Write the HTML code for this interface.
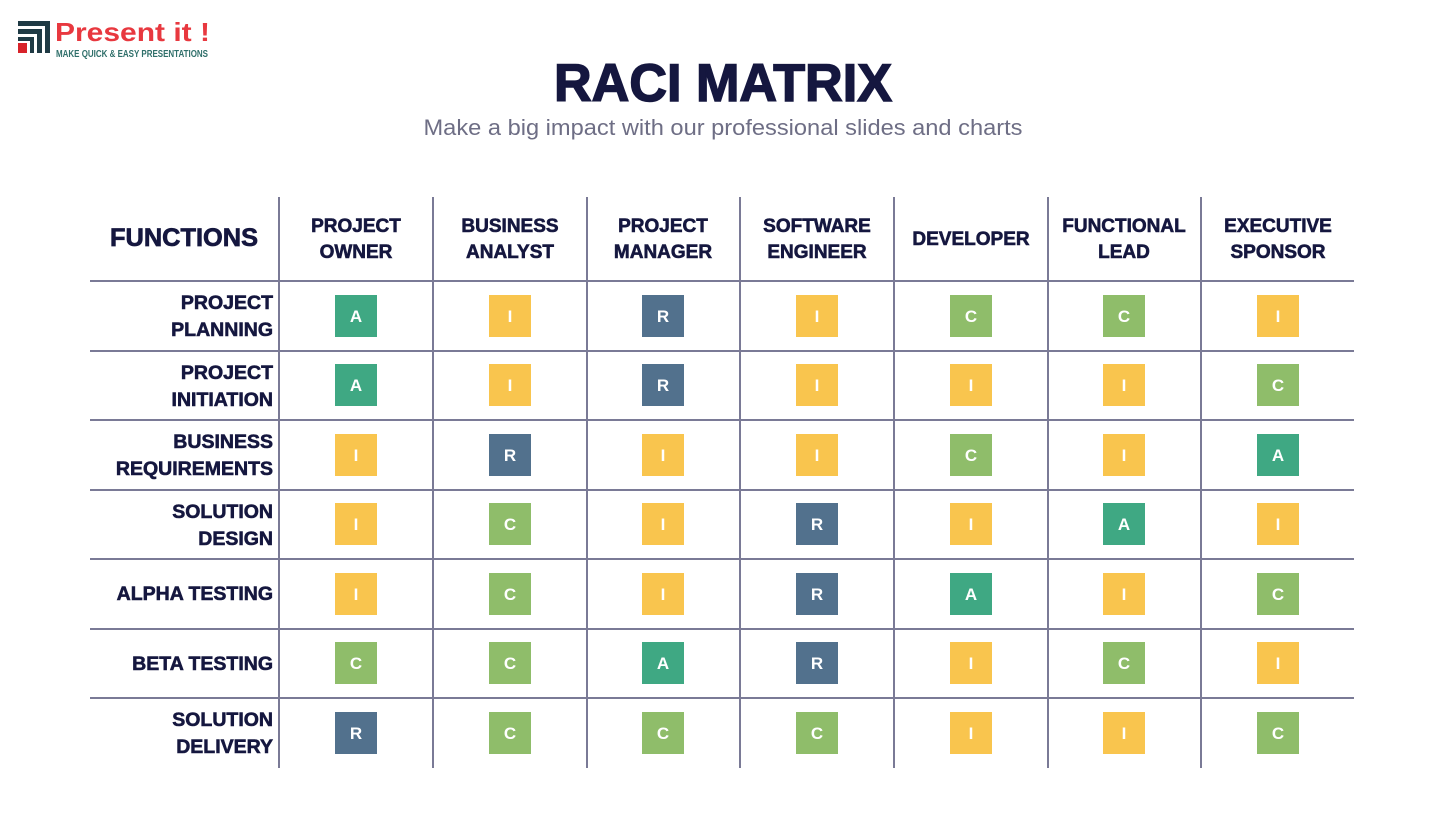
<!DOCTYPE html>
<html><head><meta charset="utf-8"><style>
html,body{margin:0;padding:0;background:#fff;}
svg{display:block;}
text{font-family:"Liberation Sans",Arial,sans-serif;font-weight:bold;}
.h{fill:#15173f;stroke:#15173f;stroke-width:0.6;font-size:19px;text-anchor:middle;}
.r{fill:#15173f;stroke:#15173f;stroke-width:0.6;font-size:19.5px;text-anchor:end;}
.c{fill:#fff;font-size:17px;text-anchor:middle;}
</style></head><body>
<svg width="1445" height="813" viewBox="0 0 1445 813" xmlns="http://www.w3.org/2000/svg">
<defs>
<g id="A"><rect x="-21" y="-21" width="42" height="42" fill="#3fa883"/><text class="c" x="0" y="6">A</text></g>
<g id="I"><rect x="-21" y="-21" width="42" height="42" fill="#f9c54e"/><text class="c" x="0" y="6">I</text></g>
<g id="R"><rect x="-21" y="-21" width="42" height="42" fill="#52718d"/><text class="c" x="0" y="6">R</text></g>
<g id="C"><rect x="-21" y="-21" width="42" height="42" fill="#8fbd6a"/><text class="c" x="0" y="6">C</text></g>
</defs>
<g fill="#1f3a44">
<rect x="18" y="21" width="32" height="5"/><rect x="45" y="21" width="5" height="32"/>
<rect x="18" y="29" width="24" height="5"/><rect x="37" y="29" width="5" height="24"/>
<rect x="18" y="37" width="16" height="4"/><rect x="30" y="37" width="4" height="16"/>
</g>
<rect x="18" y="43" width="9" height="10" fill="#d8232a"/>
<text x="55" y="41" style="font-size:26px;fill:#e8383f" textLength="155" lengthAdjust="spacingAndGlyphs">Present it !</text>
<text x="56" y="57" style="font-size:10px;fill:#2f6f6a" textLength="152" lengthAdjust="spacingAndGlyphs">MAKE QUICK &amp; EASY PRESENTATIONS</text>
<text x="723" y="101" text-anchor="middle" style="font-size:53px;fill:#15173f;stroke:#15173f;stroke-width:1.5" textLength="338" lengthAdjust="spacingAndGlyphs">RACI MATRIX</text>
<text x="723" y="135" text-anchor="middle" style="font-size:22px;fill:#6e6e85;font-weight:normal" textLength="599" lengthAdjust="spacingAndGlyphs">Make a big impact with our professional slides and charts</text>
<g stroke="#7a7a96" stroke-width="2">
<line x1="90" y1="281" x2="1354" y2="281"/>
<line x1="90" y1="351" x2="1354" y2="351"/>
<line x1="90" y1="420" x2="1354" y2="420"/>
<line x1="90" y1="490" x2="1354" y2="490"/>
<line x1="90" y1="559" x2="1354" y2="559"/>
<line x1="90" y1="629" x2="1354" y2="629"/>
<line x1="90" y1="698" x2="1354" y2="698"/>
<line x1="279" y1="197" x2="279" y2="768"/>
<line x1="433" y1="197" x2="433" y2="768"/>
<line x1="587" y1="197" x2="587" y2="768"/>
<line x1="740" y1="197" x2="740" y2="768"/>
<line x1="894" y1="197" x2="894" y2="768"/>
<line x1="1048" y1="197" x2="1048" y2="768"/>
<line x1="1201" y1="197" x2="1201" y2="768"/>
</g>
<text x="184" y="246" text-anchor="middle" style="font-size:25px;fill:#15173f;stroke:#15173f;stroke-width:0.7" textLength="148" lengthAdjust="spacingAndGlyphs">FUNCTIONS</text>
<text class="h" x="356" y="232">PROJECT</text><text class="h" x="356" y="258">OWNER</text>
<text class="h" x="510" y="232">BUSINESS</text><text class="h" x="510" y="258">ANALYST</text>
<text class="h" x="663" y="232">PROJECT</text><text class="h" x="663" y="258">MANAGER</text>
<text class="h" x="817" y="232">SOFTWARE</text><text class="h" x="817" y="258">ENGINEER</text>
<text class="h" x="971" y="245">DEVELOPER</text>
<text class="h" x="1124" y="232">FUNCTIONAL</text><text class="h" x="1124" y="258">LEAD</text>
<text class="h" x="1278" y="232">EXECUTIVE</text><text class="h" x="1278" y="258">SPONSOR</text>
<text class="r" x="273" y="309">PROJECT</text><text class="r" x="273" y="336">PLANNING</text>
<text class="r" x="273" y="379">PROJECT</text><text class="r" x="273" y="406">INITIATION</text>
<text class="r" x="273" y="448">BUSINESS</text><text class="r" x="273" y="475">REQUIREMENTS</text>
<text class="r" x="273" y="518">SOLUTION</text><text class="r" x="273" y="545">DESIGN</text>
<text class="r" x="273" y="600">ALPHA TESTING</text>
<text class="r" x="273" y="670">BETA TESTING</text>
<text class="r" x="273" y="726">SOLUTION</text><text class="r" x="273" y="753">DELIVERY</text>
<use href="#A" x="356" y="316"/><use href="#I" x="510" y="316"/><use href="#R" x="663" y="316"/><use href="#I" x="817" y="316"/><use href="#C" x="971" y="316"/><use href="#C" x="1124" y="316"/><use href="#I" x="1278" y="316"/>
<use href="#A" x="356" y="385"/><use href="#I" x="510" y="385"/><use href="#R" x="663" y="385"/><use href="#I" x="817" y="385"/><use href="#I" x="971" y="385"/><use href="#I" x="1124" y="385"/><use href="#C" x="1278" y="385"/>
<use href="#I" x="356" y="455"/><use href="#R" x="510" y="455"/><use href="#I" x="663" y="455"/><use href="#I" x="817" y="455"/><use href="#C" x="971" y="455"/><use href="#I" x="1124" y="455"/><use href="#A" x="1278" y="455"/>
<use href="#I" x="356" y="524"/><use href="#C" x="510" y="524"/><use href="#I" x="663" y="524"/><use href="#R" x="817" y="524"/><use href="#I" x="971" y="524"/><use href="#A" x="1124" y="524"/><use href="#I" x="1278" y="524"/>
<use href="#I" x="356" y="594"/><use href="#C" x="510" y="594"/><use href="#I" x="663" y="594"/><use href="#R" x="817" y="594"/><use href="#A" x="971" y="594"/><use href="#I" x="1124" y="594"/><use href="#C" x="1278" y="594"/>
<use href="#C" x="356" y="663"/><use href="#C" x="510" y="663"/><use href="#A" x="663" y="663"/><use href="#R" x="817" y="663"/><use href="#I" x="971" y="663"/><use href="#C" x="1124" y="663"/><use href="#I" x="1278" y="663"/>
<use href="#R" x="356" y="733"/><use href="#C" x="510" y="733"/><use href="#C" x="663" y="733"/><use href="#C" x="817" y="733"/><use href="#I" x="971" y="733"/><use href="#I" x="1124" y="733"/><use href="#C" x="1278" y="733"/>
</svg>
</body></html>
